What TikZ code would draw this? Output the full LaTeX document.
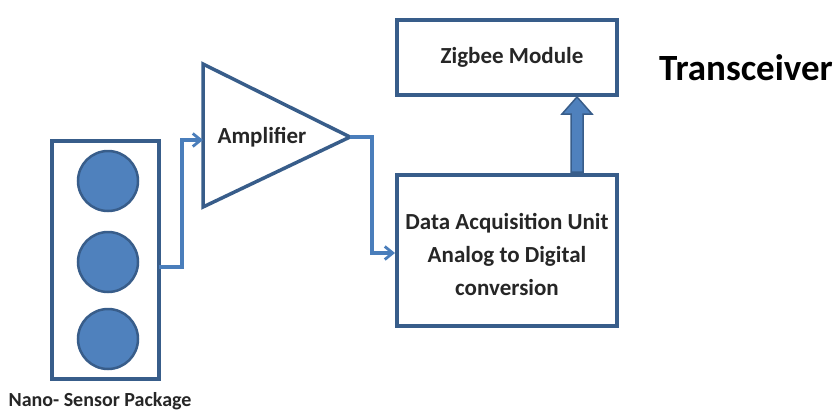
\documentclass[tikz,border=0pt]{standalone}
\usepackage{fontspec}
\setmainfont{Carlito}
\usetikzlibrary{arrows.meta}
\definecolor{edge}{HTML}{385D8A}
\definecolor{fillb}{HTML}{4F81BD}
\definecolor{wire}{HTML}{4A7EBB}
\tikzset{
  box/.style={draw=edge, line width=4pt, fill=white},
  sensor/.style={circle, draw=edge, line width=2.5pt, fill=fillb, minimum size=60pt, inner sep=0pt},
  lbl/.style={font=\bfseries\fontsize{23}{33}\selectfont, text=black!85, align=center},
  wirearrow/.style={draw=wire, line width=3.5pt, -{Straight Barb[length=8pt,width=13pt,line width=2.8pt]}},
}
\begin{document}
\begin{tikzpicture}[x=1pt,y=-1pt]
\useasboundingbox (0,0) rectangle (839,413);
% sensor package
\draw[box] (52,141) rectangle (159,379);
\coordinate (pkgout) at (159,267);
\node[sensor] (s1) at (108,181) {};
\node[sensor] (s2) at (108,262) {};
\node[sensor] (s3) at (108,339) {};
\node[font=\bfseries\fontsize{20}{24}\selectfont, text=black!85] (pkglbl) at (100,401) {Nano- Sensor Package};
% amplifier
\draw[draw=edge, line width=3.5pt, line join=miter] (203,64) -- (350,137) -- (203,207) -- cycle;
\coordinate (ampin) at (203,140);
\coordinate (ampout) at (350,137);
\node[lbl] (amp) at (262,137) {Amplifier};
% data acquisition unit
\node[box, minimum width=220pt, minimum height=151pt, inner sep=0pt] (daq) at (507,250) {};
\node[lbl] (daqtxt) at (507,254) {Data Acquisition Unit\\Analog to Digital\\conversion};
% zigbee
\node[box, minimum width=220pt, minimum height=75pt, inner sep=0pt] (zig) at (507,57.5) {};
\node[lbl] (zigtxt) at (512,57) {Zigbee Module};
\node[font=\bfseries\fontsize{37}{40}\selectfont, text=black] (trx) at (746,68) {Transceiver};
% wires
\draw[wirearrow] (pkgout) -- (182,267) |- (ampin);
\draw[wirearrow] (ampout) -- (372,137) |- (daq.west |- 0,253);
% block arrow daq -> zigbee
\draw[draw=edge, line width=1.5pt, fill=fillb, line join=miter]
  (571,172) -- (571,114) -- (562,114) -- (577,97) -- (592,114) -- (583,114) -- (583,172) -- cycle;
\end{tikzpicture}
\end{document}
